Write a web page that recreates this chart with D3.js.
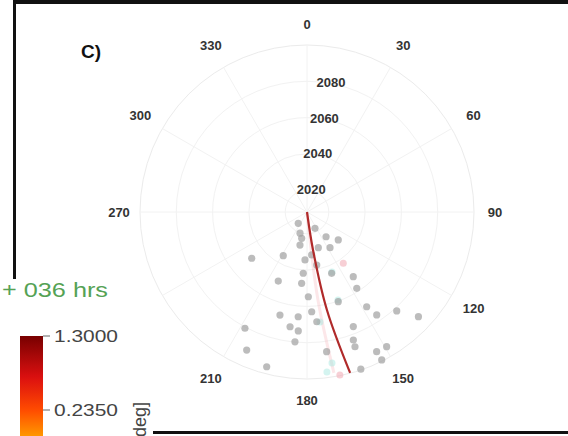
<!DOCTYPE html>
<html>
<head>
<meta charset="utf-8">
<script src="https://cdn.jsdelivr.net/npm/d3@7"></script>
<style>
  html, body { margin: 0; padding: 0; background: #fff; }
  svg { display: block; }
</style>
</head>
<body>
<svg id="chart" width="568" height="436"></svg>
<script>
// ---------------- data ----------------
const angleTicks = [0, 30, 60, 90, 120, 150, 180, 210, 240, 270, 300, 330];
const radialTicks = [2020, 2040, 2060, 2080];
const radialDomain = [2008, 2100];

// scatter points: direction [deg], radial value
const ptTheta = [217.6,153.9,198.2,142.4,131.8,192,162.4,147.2,230.1,208.5,182.4,169.6,183.5,158.1,144.4,202.6,184.3,146.9,179.1,160.8,147.8,137.8,133.2,145.9,194.7,184.8,177.3,208.1,188.4,184.2,174.9,158.0,185.3,160.1,160.4,203.6,172.0,153.5,149.4,153.2,194.6,161.1,191.4,173.8];
const ptValue = [2015.9,2018.0,2020.3,2025.2,2031.1,2026.6,2028.6,2031.4,2047.7,2035.4,2034.4,2037.7,2041.8,2044.4,2051.8,2049.2,2047.4,2058.2,2054.7,2060.3,2069.7,2081.6,2092.2,2076.5,2066.7,2065.9,2063.0,2080.6,2071.9,2073.7,2068.7,2076.1,2079.8,2083.0,2086.8,2091.0,2085.7,2094.0,2094.2,2099.3,2096.1,2099.5,2022.8,2031.8];

// faint earlier-layer points
const cyanTheta = [157.4, 160.6, 173.3, 172.9, 170.6];
const cyanValue = [2043.8, 2059.4, 2069.0, 2096.8, 2092.3];
const pinkTheta = [144.7, 168.6];
const pinkValue = [2042.6, 2099.6];

// fitted trend lines
const lineTheta = [173.0, 171.0, 168.5, 165.0];
const lineValue = [2008, 2029.2, 2063.1, 2099.8];
const ghostTheta = [174.0, 172.9, 170.5];
const ghostValue = [2008, 2056.9, 2097.8];

// colorbar
const cbTicks = [1.3, 0.235];
const cbLabels = ["1.3000", "0.2350"];
const cbValues = [-0.14, 0.235, 0.7, 1.3];
const cbColors = ["#ff9800", "#ff4b00", "#dc1010", "#780000"];

// ---------------- drawing ----------------
const svg = d3.select("#chart");
const cx = 307, cy = 212, R = 167;

const ang = d3.scaleLinear().domain([0, 360]).range([0, 2 * Math.PI]);
const rad = d3.scaleLinear().domain(radialDomain).range([0, R]);

const g = svg.append("g").attr("transform", `translate(${cx},${cy})`);

// grid rings
g.selectAll("circle.ring")
  .data(radialTicks.concat([radialDomain[1]]))
  .join("circle")
  .attr("r", d => rad(d))
  .attr("fill", "none")
  .attr("stroke", (d, i, a) => i === a.length - 1 ? "#ebebeb" : "#f2f2f2")
  .attr("stroke-width", 1);

// spokes
g.selectAll("line.spoke")
  .data(angleTicks)
  .join("line")
  .attr("x1", 0).attr("y1", 0)
  .attr("x2", d => d3.pointRadial(ang(d), R)[0])
  .attr("y2", d => d3.pointRadial(ang(d), R)[1])
  .attr("stroke", "#f2f2f2")
  .attr("stroke-width", 1);

// angular labels
g.selectAll("text.alabel")
  .data(angleTicks)
  .join("text")
  .attr("x", d => d3.pointRadial(ang(d), 188 + 5 * Math.abs(Math.sin(2 * ang(d))))[0])
  .attr("y", d => d3.pointRadial(ang(d), 188 + 5 * Math.abs(Math.sin(2 * ang(d))))[1])
  .attr("text-anchor", "middle")
  .attr("dominant-baseline", "central")
  .attr("font-family", "Liberation Sans, Arial, sans-serif")
  .attr("font-weight", "bold")
  .attr("font-size", 13)
  .attr("fill", "#333")
  .text(d => d);

// radial labels
g.selectAll("text.rlabel")
  .data(radialTicks)
  .join("text")
  .attr("x", d => d3.pointRadial(ang(10.5), rad(d) + 1)[0])
  .attr("y", d => d3.pointRadial(ang(10.5), rad(d) + 1)[1])
  .attr("text-anchor", "middle")
  .attr("dominant-baseline", "central")
  .attr("font-family", "Liberation Sans, Arial, sans-serif")
  .attr("font-weight", "bold")
  .attr("font-size", 13)
  .attr("fill", "#333")
  .text(d => d);

// faint ghost line
const lineGen = d3.lineRadial()
  .angle(d => ang(d[0]))
  .radius(d => rad(d[1]))
  .curve(d3.curveCatmullRom);

g.append("path")
  .datum(ghostTheta.map((t, i) => [t, ghostValue[i]]))
  .attr("d", lineGen)
  .attr("fill", "none")
  .attr("stroke", "#f2a0a8")
  .attr("stroke-opacity", 0.25)
  .attr("stroke-width", 3);

// faint points
g.selectAll("circle.cyan")
  .data(cyanTheta.map((t, i) => [t, cyanValue[i]]))
  .join("circle")
  .attr("cx", d => d3.pointRadial(ang(d[0]), rad(d[1]))[0])
  .attr("cy", d => d3.pointRadial(ang(d[0]), rad(d[1]))[1])
  .attr("r", 3.5)
  .attr("fill", "#9fe6de")
  .attr("fill-opacity", 0.45);

g.selectAll("circle.pink")
  .data(pinkTheta.map((t, i) => [t, pinkValue[i]]))
  .join("circle")
  .attr("cx", d => d3.pointRadial(ang(d[0]), rad(d[1]))[0])
  .attr("cy", d => d3.pointRadial(ang(d[0]), rad(d[1]))[1])
  .attr("r", 3.5)
  .attr("fill", "#f0a0ac")
  .attr("fill-opacity", 0.5);

// gray points
g.selectAll("circle.pt")
  .data(ptTheta.map((t, i) => [t, ptValue[i]]))
  .join("circle")
  .attr("cx", d => d3.pointRadial(ang(d[0]), rad(d[1]))[0])
  .attr("cy", d => d3.pointRadial(ang(d[0]), rad(d[1]))[1])
  .attr("r", 3.6)
  .attr("fill", "#a0a0a0")
  .attr("fill-opacity", 0.7);

// red trend line
g.append("path")
  .datum(lineTheta.map((t, i) => [t, lineValue[i]]))
  .attr("d", lineGen)
  .attr("fill", "none")
  .attr("stroke", "#b02a2a")
  .attr("stroke-width", 2.2);

// panel label
svg.append("text")
  .attr("x", 91).attr("y", 51)
  .attr("text-anchor", "middle")
  .attr("dominant-baseline", "central")
  .attr("font-family", "Liberation Sans, Arial, sans-serif")
  .attr("font-weight", "bold")
  .attr("font-size", 19)
  .attr("fill", "#111")
  .text("C)");

// frame
svg.append("rect").attr("x", 13).attr("y", 0).attr("width", 555).attr("height", 4).attr("fill", "#111");
svg.append("rect").attr("x", 13).attr("y", 0).attr("width", 3).attr("height", 280).attr("fill", "#111");
svg.append("rect").attr("x", 150).attr("y", 431).attr("width", 418).attr("height", 3).attr("fill", "#111");

// overlay panel
const ov = svg.append("g");
ov.append("rect").attr("x", 0).attr("y", 279).attr("width", 153).attr("height", 157).attr("fill", "#fff");

ov.append("text")
  .attr("x", 2).attr("y", 297)
  .attr("font-family", "Liberation Sans, Arial, sans-serif")
  .attr("font-size", 20)
  .attr("fill", "#55a255")
  .attr("textLength", 106)
  .attr("lengthAdjust", "spacingAndGlyphs")
  .text("+ 036 hrs");

// colorbar
const cbY = d3.scaleLinear().domain(cbTicks).range([336, 410]);
const cbColor = d3.scaleLinear().domain(cbValues).range(cbColors);
const defs = svg.append("defs");
const grad = defs.append("linearGradient")
  .attr("id", "cbgrad")
  .attr("gradientUnits", "userSpaceOnUse")
  .attr("x1", 0).attr("x2", 0)
  .attr("y1", cbY(1.3)).attr("y2", cbY(cbValues[0]));
const stops = d3.range(0, 1.0001, 0.05);
const vAt = d3.scaleLinear().domain([0, 1]).range([1.3, cbValues[0]]);
grad.selectAll("stop").data(stops).join("stop")
  .attr("offset", d => d)
  .attr("stop-color", d => cbColor(vAt(d)));

ov.append("rect")
  .attr("x", 20).attr("y", cbY(1.3))
  .attr("width", 23).attr("height", 436 - cbY(1.3))
  .attr("fill", "url(#cbgrad)");

ov.selectAll("line.cbt").data(cbTicks).join("line")
  .attr("x1", 43).attr("x2", 50)
  .attr("y1", d => cbY(d)).attr("y2", d => cbY(d))
  .attr("stroke", "#666").attr("stroke-width", 1);

ov.selectAll("text.cbl").data(cbTicks).join("text")
  .attr("x", 54).attr("y", d => cbY(d))
  .attr("dominant-baseline", "central")
  .attr("font-family", "Liberation Sans, Arial, sans-serif")
  .attr("font-size", 17)
  .attr("fill", "#444")
  .attr("textLength", 64)
  .attr("lengthAdjust", "spacingAndGlyphs")
  .text((d, i) => cbLabels[i]);

ov.append("text")
  .attr("transform", "translate(146,402) rotate(-90)")
  .attr("text-anchor", "end")
  .attr("font-family", "Liberation Sans, Arial, sans-serif")
  .attr("font-size", 18)
  .attr("fill", "#444")
  .text("Error [deg]");
</script>
</body>
</html>
